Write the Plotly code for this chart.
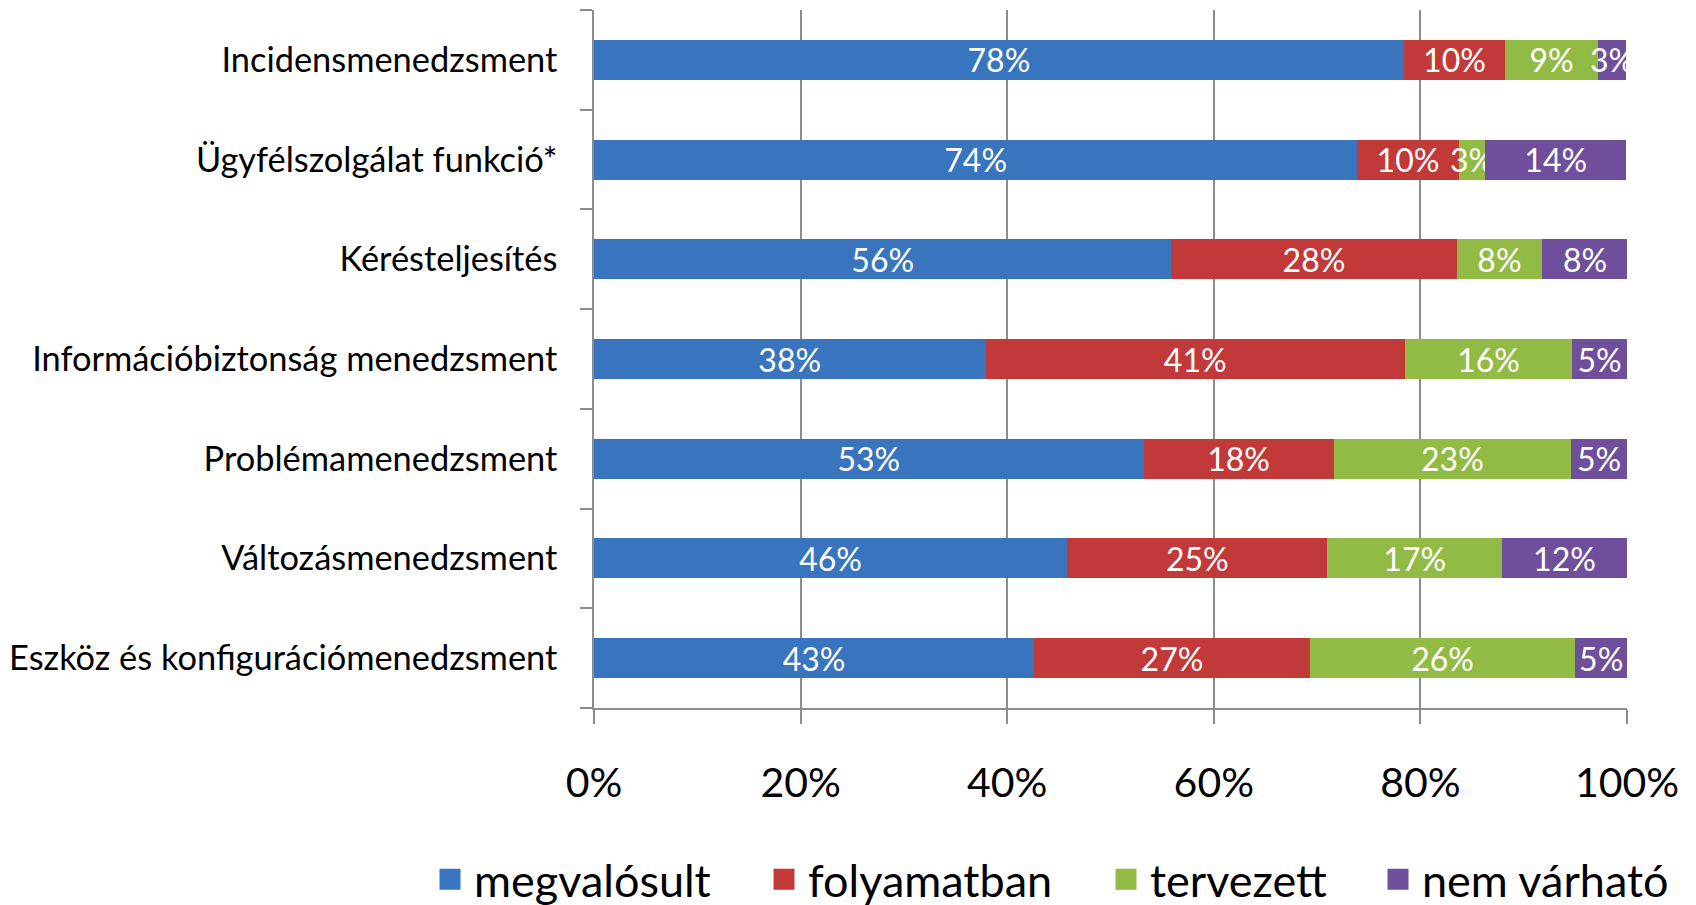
import plotly.graph_objects as go

# categories top to bottom as in the picture
categories = [
    "Incidensmenedzsment",
    "Ügyfélszolgálat funkció*",
    "Kérésteljesítés",
    "Információbiztonság menedzsment",
    "Problémamenedzsment",
    "Változásmenedzsment",
    "Eszköz és konfigurációmenedzsment",
]

megvalosult = [78.4, 73.9, 55.9, 37.9, 53.2, 45.8, 42.6]
folyamatban = [9.8, 9.8, 27.6, 40.6, 18.4, 25.2, 26.7]
tervezett = [9.0, 2.6, 8.3, 16.2, 23.0, 16.9, 25.7]
nem_varhato = [2.7, 13.6, 8.3, 5.3, 5.4, 12.1, 5.0]

series = [
    ("megvalósult", megvalosult, "#3974bf"),
    ("folyamatban", folyamatban, "#c13938"),
    ("tervezett", tervezett, "#92bb46"),
    ("nem várható", nem_varhato, "#6f4f9b"),
]

tick_vals = [0, 20, 40, 60, 80, 100]
tick_text = ["0%", "20%", "40%", "60%", "80%", "100%"]

FONT = "Lato, 'Open Sans', sans-serif"

# one small legend per series so the entries can be spaced like the original
legend_x = [418, 752, 1094, 1366]

fig = go.Figure()
for i, (name, vals, col) in enumerate(series):
    fig.add_trace(go.Bar(
        y=categories, x=vals, name=name, orientation="h",
        marker=dict(color=col, line=dict(width=0)),
        texttemplate="%{x:.0f}%", textposition="inside", textangle=0,
        insidetextanchor="middle",
        textfont=dict(color="white", size=32, family=FONT),
        hoverinfo="skip", showlegend=False,
    ))

# legend entries (bigger square swatches than the bar legend gives)
for i, (name, vals, col) in enumerate(series):
    lg = "legend" if i == 0 else "legend%d" % (i + 1)
    fig.add_trace(go.Scatter(
        x=[None], y=[None], mode="markers", name=name,
        marker=dict(symbol="square", size=16, color=col,
                    line=dict(color=col, width=5)),
        legend=lg, showlegend=True, hoverinfo="skip",
    ))
    fig.update_layout({lg: dict(
        orientation="h", xref="container", yref="container",
        x=legend_x[i] / 1696, xanchor="left", y=0.037, yanchor="middle",
        font=dict(size=45, family=FONT, color="black"),
        bgcolor="rgba(0,0,0,0)", itemwidth=38,
    )})

fig.update_layout(
    barmode="stack",
    bargap=0.6,
    showlegend=True,
    width=1696, height=905,
    margin=dict(l=586, r=77, t=2, b=205, autoexpand=False),
    paper_bgcolor="white", plot_bgcolor="white",
    font=dict(family=FONT, color="black"),
    uniformtext=dict(minsize=32, mode="show"),
)

fig.update_xaxes(
    range=[0, 100], tickvals=tick_vals, ticktext=tick_text,
    showgrid=True, gridcolor="#8c8c8c", gridwidth=1.5,
    showline=True, linecolor="#8c8c8c", linewidth=1.5,
    ticks="outside", ticklen=14, tickcolor="#8c8c8c", tickwidth=1.5,
    tickfont=dict(size=41, family=FONT), ticklabelstandoff=24,
    zeroline=False, automargin=False,
)
fig.update_yaxes(
    categoryorder="array", categoryarray=categories[::-1],
    showline=True, linecolor="#8c8c8c", linewidth=1.5,
    ticks="outside", tickson="boundaries", ticklen=12,
    tickcolor="#8c8c8c", tickwidth=1.5,
    tickfont=dict(size=34.4, family=FONT), ticklabelstandoff=28,
    showgrid=False, automargin=False,
)

fig.write_html("out.html")
